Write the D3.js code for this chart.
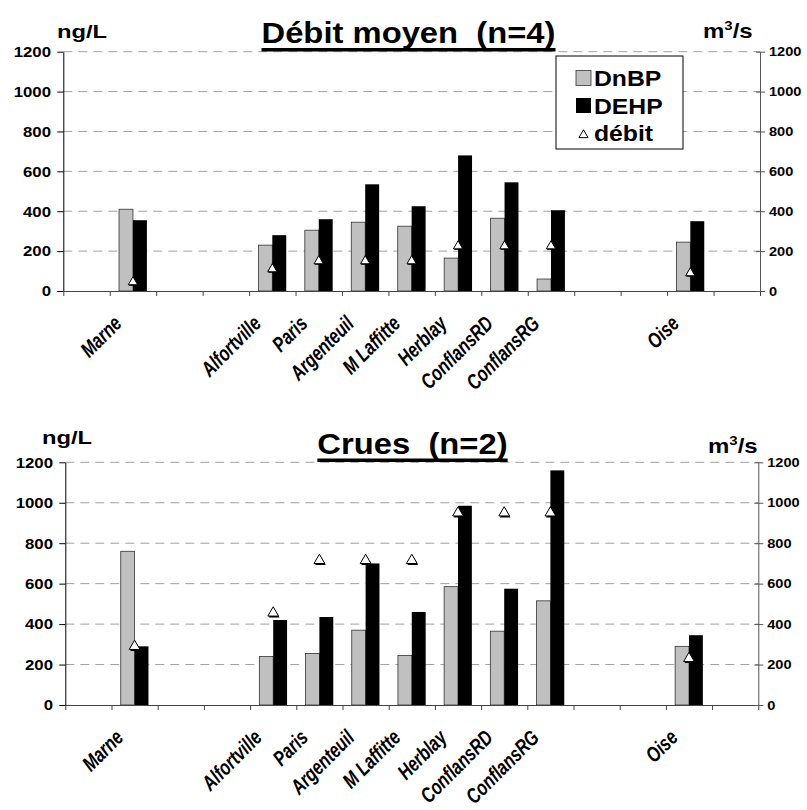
<!DOCTYPE html>
<html>
<head>
<meta charset="utf-8">
<script src="https://cdn.jsdelivr.net/npm/d3@7"></script>
<style>
  body { margin: 0; background: #fff; }
  text { font-family: "Liberation Sans", Arial, sans-serif; font-weight: bold; }
</style>
</head>
<body>
<div id="chart"></div>
<script>
// 15 slots on the x axis, blanks are empty categories
const sites = ["", "Marne", "", "", "Alfortville", "Paris", "Argenteuil", "M Laffitte",
    "Herblay", "ConflansRD", "ConflansRG", "", "", "Oise", ""];

const dnbpMoyen  = [null, 410, null, null, 230, 305, 345, 325, 165, 365, 60, null, null, 245, null];
const dehpMoyen  = [null, 355, null, null, 280, 360, 535, 425, 680, 545, 405, null, null, 350, null];
const debitMoyen = [null, 45, null, null, 110, 150, 150, 150, 225, 225, 225, null, null, 90, null];

const dnbpCrues  = [null, 760, null, null, 240, 255, 370, 245, 585, 365, 515, null, null, 290, null];
const dehpCrues  = [null, 290, null, null, 420, 435, 700, 460, 985, 575, 1160, null, null, 345, null];
const debitCrues = [null, 290, null, null, 455, 715, 715, 715, 950, 950, 950, null, null, 230, null];

const yTicks = [0, 200, 400, 600, 800, 1000, 1200];
const legendLabels = ["DnBP", "DEHP", "débit"];

const W = 807, H = 810;
const svg = d3.select("#chart").append("svg")
    .attr("width", W)
    .attr("height", H);

// text in the source is a bit wider than Arial, so stretch it horizontally
function place(sel, x, y, sx) {
    return sel.attr("transform", "translate(" + x + "," + y + ") scale(" + sx + ",1)");
}

function drawChart(cfg) {
    const g = svg.append("g");

    const x = d3.scaleBand()
        .domain(d3.range(sites.length))
        .range([cfg.left, cfg.right])
        .paddingInner(0).paddingOuter(0);
    const xEdges = d3.scaleLinear().domain([0, sites.length]).range([cfg.left, cfg.right]);
    const y = d3.scaleLinear().domain([0, 1200]).range([cfg.bottom, cfg.top]);
    const y2 = d3.scaleLinear().domain([0, 1200]).range([cfg.bottom, cfg.top]);
    const bw = x.bandwidth();
    const barW = bw * 0.3;

    // dashed grid
    g.append("g").selectAll("line")
        .data(yTicks.filter(d => d > 0))
        .join("line")
            .attr("x1", cfg.left).attr("x2", cfg.right)
            .attr("y1", d => y(d)).attr("y2", d => y(d))
            .attr("stroke", "#a0a0a0")
            .attr("stroke-width", 1)
            .attr("stroke-dasharray", "9,6");

    // bars
    const rows = sites.map((s, i) => ({ i: i, dnbp: cfg.dnbp[i], dehp: cfg.dehp[i], debit: cfg.debit[i] }))
        .filter(d => d.dnbp != null);

    g.append("g").selectAll("rect")
        .data(rows)
        .join("rect")
            .attr("x", d => x(d.i) + bw / 2 - barW)
            .attr("y", d => y(d.dnbp))
            .attr("width", barW)
            .attr("height", d => y(0) - y(d.dnbp))
            .attr("fill", "#c0c0c0")
            .attr("stroke", "#333")
            .attr("stroke-width", 0.8);

    g.append("g").selectAll("rect")
        .data(rows)
        .join("rect")
            .attr("x", d => x(d.i) + bw / 2)
            .attr("y", d => y(d.dehp))
            .attr("width", barW)
            .attr("height", d => y(0) - y(d.dehp))
            .attr("fill", "#000");

    // x axis: ticks on slot edges
    const xAxis = g.append("g")
        .attr("transform", "translate(0," + cfg.bottom + ")")
        .call(d3.axisBottom(xEdges).tickValues(d3.range(sites.length + 1)).tickFormat("").tickSize(5).tickSizeOuter(0));
    xAxis.selectAll("path, line").attr("stroke", "#444");

    // site names, slanted, glyphs a little taller than wide like the source
    g.append("g").selectAll("text")
        .data(sites.map((s, i) => ({ s: s, i: i })).filter(d => d.s))
        .join("text")
            .attr("text-anchor", "end")
            .attr("font-style", "italic")
            .attr("font-size", 17)
            .attr("transform", d => "translate(" + (x(d.i) + bw / 2 - 10) + "," + (cfg.bottom + 34) + ") rotate(-45) scale(0.95,1.25)")
            .text(d => d.s);

    // left axis
    const yAxis = g.append("g")
        .attr("transform", "translate(" + cfg.left + ",0)")
        .call(d3.axisLeft(y).tickValues(yTicks).tickFormat(d3.format("d")).tickSize(6).tickSizeOuter(0).tickPadding(5));
    yAxis.selectAll("path, line").attr("stroke", "#000");
    yAxis.selectAll("text")
        .attr("font-size", 15)
        .attr("fill", "#000")
        .attr("transform", "scale(1.12,1)");

    // right axis
    const y2Axis = g.append("g")
        .attr("transform", "translate(" + cfg.right + ",0)")
        .call(d3.axisRight(y2).tickValues(yTicks).tickFormat(d3.format("d")).tickSize(5).tickSizeOuter(0).tickPadding(3));
    y2Axis.selectAll("path, line").attr("stroke", "#555");
    y2Axis.selectAll(".tick line").attr("x1", -4);
    y2Axis.selectAll("text")
        .attr("font-size", 13)
        .attr("fill", "#000")
        .attr("transform", "scale(1.12,1)");

    // débit triangles (secondary axis), with a small dark shadow
    const tri = d3.symbol().type(d3.symbolTriangle).size(cfg.triSize);
    g.append("g").selectAll("path")
        .data(rows)
        .join("path")
            .attr("d", tri)
            .attr("transform", d => "translate(" + (x(d.i) + bw / 2 + cfg.shadow) + "," + (y2(d.debit) + cfg.shadow * 1.5) + ")")
            .attr("fill", "#000");
    g.append("g").selectAll("path")
        .data(rows)
        .join("path")
            .attr("d", tri)
            .attr("transform", d => "translate(" + (x(d.i) + bw / 2) + "," + y2(d.debit) + ")")
            .attr("fill", "#fff")
            .attr("stroke", "#000")
            .attr("stroke-width", 1);

    // title with underline
    const title = g.append("text")
        .attr("text-anchor", "middle")
        .attr("font-size", 29)
        .style("white-space", "pre")
        .text(cfg.title);
    place(title, cfg.titleX, cfg.titleY, 1.13);
    const tw = title.node().getComputedTextLength() * 1.13;
    g.append("rect")
        .attr("x", cfg.titleX - tw / 2)
        .attr("y", cfg.titleY + 5)
        .attr("width", tw)
        .attr("height", 3.5)
        .attr("fill", "#000");

    // unit labels
    place(g.append("text").attr("font-size", 19).text("ng/L"), cfg.unitLX, cfg.unitY, 1.25);
    const u2 = g.append("text").attr("font-size", 20);
    u2.append("tspan").text("m");
    u2.append("tspan").attr("font-size", 12.5).attr("dy", -8).text("3");
    u2.append("tspan").attr("dy", 8).text("/s");
    place(u2, cfg.unitRX, cfg.unitY2, 1.2);

    return { x: x, y: y };
}

drawChart({
    left: 63.3, right: 760, top: 51.7, bottom: 291,
    dnbp: dnbpMoyen, dehp: dehpMoyen, debit: debitMoyen,
    title: "Débit moyen  (n=4)", titleX: 408.5, titleY: 43,
    unitLX: 57, unitY: 38, unitRX: 703, unitY2: 38,
    triSize: 38, shadow: 0.6
});

drawChart({
    left: 65.3, right: 758.3, top: 462.3, bottom: 705,
    dnbp: dnbpCrues, dehp: dehpCrues, debit: debitCrues,
    title: "Crues  (n=2)", titleX: 412.5, titleY: 453.5,
    unitLX: 42, unitY: 444, unitRX: 708, unitY2: 453,
    triSize: 50, shadow: 1
});

// legend (top chart only)
const legend = svg.append("g");
legend.append("rect")
    .attr("x", 556).attr("y", 56)
    .attr("width", 127).attr("height", 93)
    .attr("fill", "#fff")
    .attr("stroke", "#000")
    .attr("stroke-width", 1);

const ly = d3.scalePoint().domain(legendLabels).range([78, 133]);
legend.append("rect")
    .attr("x", 576).attr("y", ly("DnBP") - 7.5)
    .attr("width", 15).attr("height", 15)
    .attr("fill", "#c0c0c0").attr("stroke", "#333").attr("stroke-width", 0.8);
legend.append("rect")
    .attr("x", 576).attr("y", ly("DEHP") - 7.5)
    .attr("width", 15).attr("height", 15)
    .attr("fill", "#000");
legend.append("path")
    .attr("d", d3.symbol().type(d3.symbolTriangle).size(36))
    .attr("transform", "translate(583.5," + (ly("débit") + 2) + ")")
    .attr("fill", "#fff").attr("stroke", "#000").attr("stroke-width", 1);

legend.selectAll("text.lg")
    .data(legendLabels)
    .join("text")
        .attr("class", "lg")
        .attr("font-size", 22.5)
        .text(d => d)
        .each(function(d) {
            place(d3.select(this), 594, ly(d) + 8, 1.1);
        });
</script>
</body>
</html>
